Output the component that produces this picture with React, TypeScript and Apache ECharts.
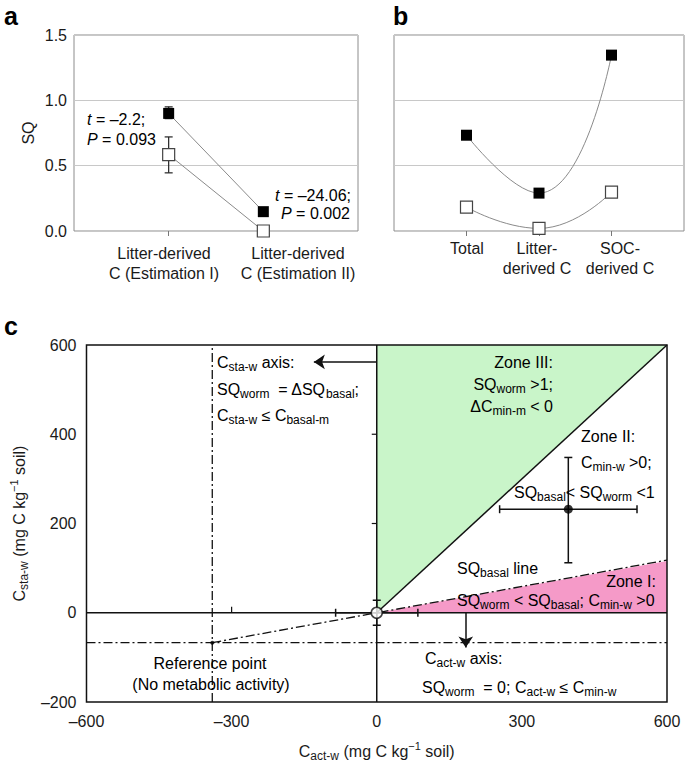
import React, { useEffect, useRef } from "react";
import * as echarts from "echarts";

const F = "'Liberation Sans', Arial, Helvetica, sans-serif";
const TXT = "#1a1a1a";

// ---------- Panel a ----------
const catsA = ["Litter-derived\nC (Estimation I)", "Litter-derived\nC (Estimation II)"];
const posA = [1, 2];
const blackA = [0.9, 0.148];
const whiteA = [0.585, 0.0];
const blackErrA = [[1, 0.86, 0.95]];
const whiteErrA = [[1, 0.445, 0.72]];

// ---------- Panel b ----------
const catsB = ["Total", "Litter-\nderived C", "SOC-\nderived C"];
const posB = [1, 2, 3];
const blackB = [0.733, 0.29, 1.346];
const whiteB = [0.182, 0.02, 0.298];

// ---------- Panel c ----------
const referencePoint = [-340, -67];
const originPoint = [0, 0];
const zone2Point = [396, 232];
// [x, y, xLow, xHigh, yLow, yHigh]
const errBarsC = [
  [0, 0, -85, 85, -28, 28],
  [396, 232, 254, 538, 112, 348],
];
const zone3Poly = [[0, 0], [0, 600], [600, 600]];
const zone1Poly = [[0, 0], [600, 0], [600, 116]];
const oneToOneLine = [[0, 0], [600, 600]];
const sqBasalLine = [[-340, -67], [600, 118]];
const yZeroLine = [[-600, 0], [600, 0]];
const xZeroLine = [[0, -200], [0, 600]];
const refVertical = [[-340, -200], [-340, 600]];
const refHorizontal = [[-600, -67], [600, -67]];
const staArrow = [[0, 562], [-130, 562]];
const actArrow = [[184, 0], [184, -78]];
const innerTicksOnYLine = [200, 400];
const innerTicksOnXLine = [-300];

const dash = (v: number) => (v < 0 ? "\u2013" + Math.abs(v) : String(v));

const rich: any = {
  n: { fontFamily: F, fontSize: 16, lineHeight: 22, color: TXT },
  i: { fontFamily: F, fontSize: 16, lineHeight: 22, color: TXT, fontStyle: "italic" },
  s: { fontFamily: F, fontSize: 12, lineHeight: 8, verticalAlign: "bottom", color: TXT },
  u: { fontFamily: F, fontSize: 11, lineHeight: 11, verticalAlign: "top", color: TXT },
};

// category label placement (centre x, top y) for panels a and b
const catLabelPosA = [[164, 243], [298, 243]];
const catLabelPosB = [[467, 238], [537, 238], [620, 238]];

const textsA = [
  { x: 87, y: 119, t: "{i|t}{n| = \u20132.2;}" },
  { x: 87, y: 139, t: "{i|P}{n| = 0.093}" },
  { x: 275, y: 195, t: "{i|t}{n| = \u201324.06;}" },
  { x: 281, y: 213, t: "{i|P}{n| = 0.002}" },
];

const textsC = [
  { x: 217, y: 362, t: "{n|C}{s|sta-w}{n| axis:}" },
  { x: 217, y: 389, t: "{n|SQ}{s|worm}{n|  = \u0394SQ}{s|basal}{n|;}" },
  { x: 217, y: 415, t: "{n|C}{s|sta-w}{n| \u2264 C}{s|basal-m}" },
  { x: 553, y: 362, a: "right", t: "{n|Zone III:}" },
  { x: 553, y: 384, a: "right", t: "{n|SQ}{s|worm}{n| >1;}" },
  { x: 553, y: 406, a: "right", t: "{n|\u0394C}{s|min-m}{n| < 0}" },
  { x: 581, y: 436, t: "{n|Zone II:}" },
  { x: 581, y: 462, t: "{n|C}{s|min-w}{n| >0;}" },
  { x: 514, y: 492, t: "{n|SQ}{s|basal}{n|< SQ}{s|worm}{n| <1}" },
  { x: 457, y: 568, t: "{n|SQ}{s|basal}{n| line}" },
  { x: 656, y: 581, a: "right", t: "{n|Zone I:}" },
  { x: 457, y: 600, t: "{n|SQ}{s|worm}{n| < SQ}{s|basal}{n|; C}{s|min-w}{n| >0}" },
  { x: 425, y: 658, t: "{n|C}{s|act-w}{n| axis:}" },
  { x: 422, y: 687, t: "{n|SQ}{s|worm}{n|  = 0; C}{s|act-w}{n| \u2264 C}{s|min-w}" },
  { x: 210, y: 663, a: "center", t: "{n|Reference point}" },
  { x: 211, y: 684, a: "center", t: "{n|(No metabolic activity)}" },
];

const panelLetters = [
  { x: 4, y: 16, t: "a" },
  { x: 393, y: 16, t: "b" },
  { x: 4, y: 326, t: "c" },
];

function ln(a: number[], b: number[], st: any) {
  return { type: "line", shape: { x1: a[0], y1: a[1], x2: b[0], y2: b[1] }, style: st };
}

function polyRender(pts: number[][], color: string) {
  return (params: any, api: any) => {
    if (params.dataIndex !== 0) return { type: "group", children: [] };
    return {
      type: "polygon",
      shape: { points: pts.map((p) => api.coord(p)) },
      style: { fill: color, stroke: "none" },
    };
  };
}

function vErrRender(params: any, api: any) {
  const x = api.value(0);
  const lo = api.coord([x, api.value(1)]);
  const hi = api.coord([x, api.value(2)]);
  const st = { stroke: "#222", lineWidth: 1.2 };
  const w = 4;
  return {
    type: "group",
    children: [
      ln(lo, hi, st),
      ln([lo[0] - w, lo[1]], [lo[0] + w, lo[1]], st),
      ln([hi[0] - w, hi[1]], [hi[0] + w, hi[1]], st),
    ],
  };
}

function xyErrRender(params: any, api: any) {
  const x = api.value(0);
  const y = api.value(1);
  const a = api.coord([api.value(2), y]);
  const b = api.coord([api.value(3), y]);
  const c = api.coord([x, api.value(4)]);
  const d = api.coord([x, api.value(5)]);
  const st = { stroke: "#111", lineWidth: 1.5 };
  const w = 4;
  return {
    type: "group",
    children: [
      ln(a, b, st),
      ln([a[0], a[1] - w], [a[0], a[1] + w], st),
      ln([b[0], b[1] - w], [b[0], b[1] + w], st),
      ln(c, d, st),
      ln([c[0] - w, c[1]], [c[0] + w, c[1]], st),
      ln([d[0] - w, d[1]], [d[0] + w, d[1]], st),
    ],
  };
}

function tickLeftRender(params: any, api: any) {
  const p = api.coord([api.value(0), api.value(1)]);
  return ln([p[0] - 5, p[1]], p, { stroke: "#111", lineWidth: 1.2 });
}
function tickUpRender(params: any, api: any) {
  const p = api.coord([api.value(0), api.value(1)]);
  return ln([p[0], p[1] - 6], p, { stroke: "#111", lineWidth: 1.2 });
}

export default function App() {
  const ref = useRef<HTMLDivElement>(null);
  useEffect(() => {
    if (!ref.current) return;
    const chart = echarts.init(ref.current, null, { renderer: "svg" });
    const labelStyle = { fontFamily: F, fontSize: 16, color: TXT };
    const gridBorderAB = { show: true, borderColor: "#8c8c8c", borderWidth: 1, backgroundColor: "transparent" };
    const sqSplit = { show: true, lineStyle: { color: "#c8c8c8", width: 1 } };
    const cLine = (data: number[][], type: any, width = 1.5, z = 4) => ({
      type: "line",
      xAxisIndex: 2,
      yAxisIndex: 2,
      data,
      symbol: "none",
      silent: true,
      z,
      lineStyle: { color: "#111", width, type },
    });
    const dashDot = [9, 3, 2, 3];
    const catText = (t: string, p: number[]) => ({
      type: "text", x: p[0], y: p[1], z: 100, silent: true,
      style: {
        text: t, fontFamily: F, fontSize: 16, lineHeight: 20, fill: TXT,
        align: "center", verticalAlign: "top", textAlign: "center", textVerticalAlign: "top",
      },
    });
    const option: any = {
      animation: false,
      grid: [
        { left: 74, top: 35, width: 284, height: 196, ...gridBorderAB },
        { left: 394, top: 35, width: 290, height: 196, ...gridBorderAB },
        { left: 83, top: 345, width: 584, height: 357, show: true, borderColor: "#111", borderWidth: 1.5, backgroundColor: "transparent", z: 10 },
      ],
      xAxis: [
        {
          gridIndex: 0, type: "value", min: 0, max: 3, interval: 1,
          axisLine: { show: false, onZero: false }, splitLine: { show: false },
          axisTick: { show: true, customValues: posA, length: 5, lineStyle: { color: "#777" } },
          axisLabel: { show: false },
        },
        {
          gridIndex: 1, type: "value", min: 0, max: 4, interval: 1,
          axisLine: { show: false, onZero: false }, splitLine: { show: false },
          axisTick: { show: true, customValues: posB, length: 5, lineStyle: { color: "#777" } },
          axisLabel: { show: false },
        },
        {
          gridIndex: 2, type: "value", min: -600, max: 600, interval: 300,
          axisLine: { show: false, onZero: false }, axisTick: { show: false }, splitLine: { show: false },
          axisLabel: { ...labelStyle, margin: 11, formatter: (v: number) => dash(v) },
          name: "{n|C}{s|act-w}{n| (mg C kg}{u|\u22121}{n| soil)}",
          nameLocation: "middle", nameGap: 38,
          nameTextStyle: { rich },
        },
      ],
      yAxis: [
        {
          gridIndex: 0, type: "value", min: 0, max: 1.5, interval: 0.5,
          axisLine: { show: false, onZero: false }, axisTick: { show: false },
          axisLabel: { ...labelStyle, margin: 7, formatter: (v: number) => v.toFixed(1) },
          splitLine: sqSplit,
          name: "SQ", nameLocation: "middle", nameGap: 38,
          nameTextStyle: { ...labelStyle },
        },
        {
          gridIndex: 1, type: "value", min: 0, max: 1.5, interval: 0.5,
          axisLine: { show: false, onZero: false }, axisTick: { show: false },
          axisLabel: { show: false }, splitLine: sqSplit,
        },
        {
          gridIndex: 2, type: "value", min: -200, max: 600, interval: 200,
          axisLine: { show: false, onZero: false }, axisTick: { show: false }, splitLine: { show: false },
          axisLabel: { ...labelStyle, margin: 10, formatter: (v: number) => dash(v) },
          name: "{n|C}{s|sta-w}{n| (mg C kg}{u|\u22121}{n| soil)}",
          nameLocation: "middle", nameGap: 43,
          nameTextStyle: { rich },
        },
      ],
      series: [
        // ----- panel a -----
        { type: "custom", xAxisIndex: 0, yAxisIndex: 0, data: whiteErrA, renderItem: vErrRender, z: 2, silent: true },
        { type: "custom", xAxisIndex: 0, yAxisIndex: 0, data: blackErrA, renderItem: vErrRender, z: 2, silent: true },
        {
          type: "line", xAxisIndex: 0, yAxisIndex: 0,
          data: posA.map((x, i) => [x, blackA[i]]),
          symbol: "rect", symbolSize: 11, z: 3,
          itemStyle: { color: "#000" }, lineStyle: { color: "#8a8a8a", width: 1 },
        },
        {
          type: "line", xAxisIndex: 0, yAxisIndex: 0,
          data: posA.map((x, i) => [x, whiteA[i]]),
          symbol: "rect", symbolSize: 12, z: 3,
          itemStyle: { color: "#fff", borderColor: "#444", borderWidth: 1.2 },
          lineStyle: { color: "#8a8a8a", width: 1 },
        },
        // ----- panel b -----
        {
          type: "line", xAxisIndex: 1, yAxisIndex: 1, smooth: 0.5,
          data: posB.map((x, i) => [x, blackB[i]]),
          symbol: "rect", symbolSize: 11, z: 3,
          itemStyle: { color: "#000" }, lineStyle: { color: "#8a8a8a", width: 1 },
        },
        {
          type: "line", xAxisIndex: 1, yAxisIndex: 1, smooth: 0.5,
          data: posB.map((x, i) => [x, whiteB[i]]),
          symbol: "rect", symbolSize: 12, z: 3,
          itemStyle: { color: "#fff", borderColor: "#444", borderWidth: 1.2 },
          lineStyle: { color: "#8a8a8a", width: 1 },
        },
        // ----- panel c -----
        { type: "custom", xAxisIndex: 2, yAxisIndex: 2, data: zone3Poly, renderItem: polyRender(zone3Poly, "#c9f5c9"), z: 1, silent: true },
        { type: "custom", xAxisIndex: 2, yAxisIndex: 2, data: zone1Poly, renderItem: polyRender(zone1Poly, "#f59ac8"), z: 1, silent: true },
        cLine(yZeroLine, "solid"),
        cLine(xZeroLine, "solid"),
        cLine(oneToOneLine, "solid"),
        cLine(refVertical, dashDot, 1.3),
        cLine(refHorizontal, dashDot, 1.3),
        cLine(sqBasalLine, dashDot, 1.3),
        { type: "custom", xAxisIndex: 2, yAxisIndex: 2, data: innerTicksOnYLine.map((v) => [0, v]), renderItem: tickLeftRender, z: 5, silent: true },
        { type: "custom", xAxisIndex: 2, yAxisIndex: 2, data: innerTicksOnXLine.map((v) => [v, 0]), renderItem: tickUpRender, z: 5, silent: true },
        { type: "custom", xAxisIndex: 2, yAxisIndex: 2, data: errBarsC, renderItem: xyErrRender, z: 6, silent: true },
        {
          type: "lines", coordinateSystem: "cartesian2d", xAxisIndex: 2, yAxisIndex: 2,
          symbol: ["none", "arrow"], symbolSize: 11, z: 6, silent: true,
          lineStyle: { color: "#111", width: 1.5, opacity: 1, curveness: 0 },
          data: [{ coords: staArrow }, { coords: actArrow }],
        },
        {
          type: "scatter", xAxisIndex: 2, yAxisIndex: 2, data: [originPoint], symbol: "circle", symbolSize: 11, z: 8,
          itemStyle: { color: "#fff", borderColor: "#111", borderWidth: 1.5 }, silent: true,
        },
        {
          type: "scatter", xAxisIndex: 2, yAxisIndex: 2, data: [zone2Point], symbol: "circle", symbolSize: 9, z: 8,
          itemStyle: { color: "#000" }, silent: true,
        },
        {
          type: "scatter", xAxisIndex: 2, yAxisIndex: 2, data: [referencePoint], symbol: "circle", symbolSize: 4, z: 8,
          itemStyle: { color: "#000" }, silent: true,
        },
      ],
      graphic: [
        ...catsA.map((t, i) => catText(t, catLabelPosA[i])),
        ...catsB.map((t, i) => catText(t, catLabelPosB[i])),
        ...textsA.map((d) => ({
          type: "text", x: d.x, y: d.y, z: 100, silent: true,
          style: { text: d.t, rich, align: "left", verticalAlign: "middle", textAlign: "left", textVerticalAlign: "middle" },
        })),
        ...textsC.map((d: any) => ({
          type: "text", x: d.x, y: d.y, z: 100, silent: true,
          style: { text: d.t, rich, align: d.a || "left", verticalAlign: "middle", textAlign: d.a || "left", textVerticalAlign: "middle" },
        })),
        ...panelLetters.map((d) => ({
          type: "text", x: d.x, y: d.y, z: 100, silent: true,
          style: {
            text: d.t, fontFamily: F, fontSize: 25, fontWeight: "bold", fill: "#000",
            align: "left", verticalAlign: "middle", textAlign: "left", textVerticalAlign: "middle",
          },
        })),
      ],
    };
    chart.setOption(option);
    return () => chart.dispose();
  }, []);
  return (
    <div
      ref={ref}
      style={{ position: "absolute", left: 0, top: 0, width: 685, height: 765, background: "#fff" }}
    />
  );
}
